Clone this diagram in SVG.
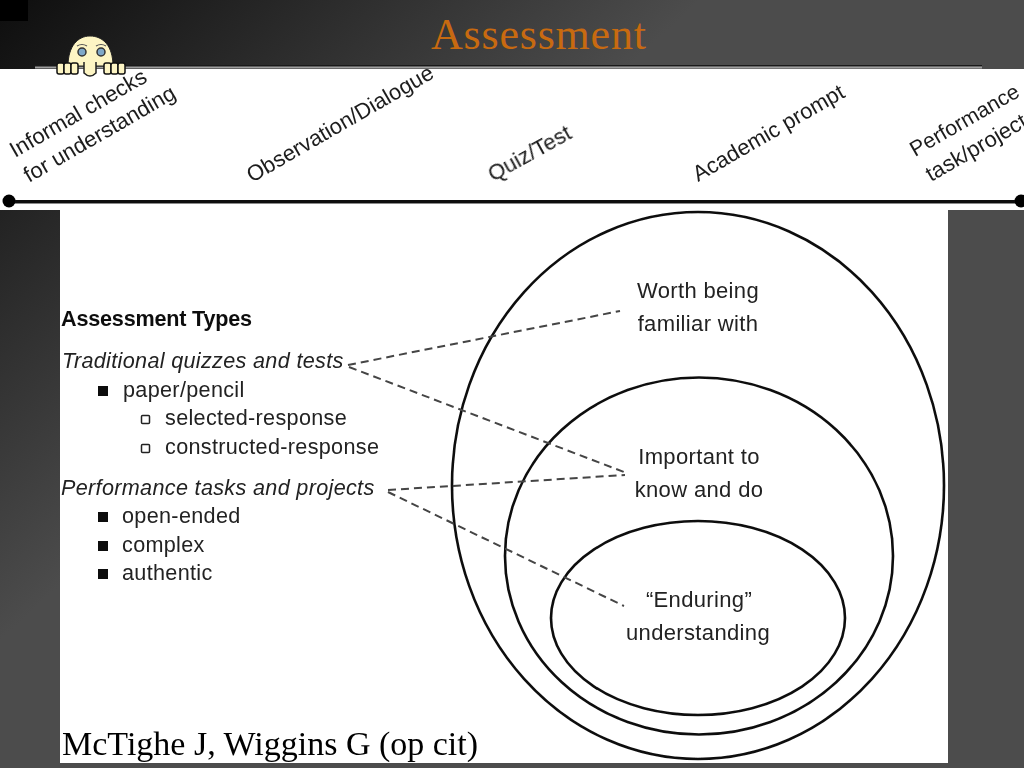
<svg xmlns="http://www.w3.org/2000/svg" width="1024" height="768" viewBox="0 0 1024 768">
<defs>
<linearGradient id="bg" gradientUnits="userSpaceOnUse" x1="0" y1="0" x2="319" y2="349"><stop offset="0" stop-color="#0e0e0e"/><stop offset="1" stop-color="#4c4c4c"/></linearGradient>
<filter id="soft" x="-2%" y="-2%" width="104%" height="104%"><feGaussianBlur stdDeviation="0.35"/></filter>
</defs>
<style>
text{font-family:"Liberation Sans",Arial,sans-serif;fill:#222}
.l{font-size:21.600px;letter-spacing:.33px}
.c{font-size:22px;letter-spacing:.35px}
.i{font-size:21.600px;letter-spacing:.33px;font-style:italic}
.r{font-size:22px;fill:#1c1c1c}
.d{fill:none;stroke:#444;stroke-width:2;stroke-dasharray:8 5}
.e{fill:none;stroke:#111;stroke-width:2.600}
</style>
<rect width="1024" height="768" fill="url(#bg)"/>
<rect x="0" y="0" width="28" height="21" fill="#000"/>
<rect x="0" y="69" width="1024" height="141" fill="#fff"/>
<rect x="60" y="209" width="888" height="554" fill="#fff"/>
<rect x="35" y="65" width="947" height="1.500" fill="#1a1a1a"/>
<rect x="35" y="66.500" width="947" height="2" fill="#a0a0a0"/>
<text x="431" y="49" style="font-family:'Liberation Serif',serif;font-size:44px;letter-spacing:.8px;fill:#c86a10">Assessment</text>
<g id="scale" filter="url(#soft)">
<rect x="8" y="200" width="1012" height="3.500" fill="#111"/>
<circle cx="9" cy="201" r="6.500" fill="#000"/><circle cx="1021" cy="201" r="6.500" fill="#000"/>
<g transform="rotate(-30 15 158)"><text class="r" x="15" y="158">Informal checks</text></g>
<g transform="rotate(-30 29 183)"><text class="r" x="29" y="183">for understanding</text></g>
<g transform="rotate(-30 252 183)"><text class="r" x="252" y="183">Observation/Dialogue</text></g>
<g transform="rotate(-29 493 182)"><text class="r" x="493" y="182">Quiz/Test</text></g>
<g transform="rotate(-30 698 182)"><text class="r" x="698" y="182">Academic prompt</text></g>
<g transform="rotate(-30 915 157)"><text class="r" x="915" y="157" style="font-size:21.400px">Performance</text></g>
<g transform="rotate(-30 931 182)"><text class="r" x="931" y="182">task/project</text></g>
</g>
<g id="mascot">
<path d="M68 66C68 46 78 36 90 36C103 36 113 46 113 66Z" fill="#fdf5c4" stroke="#222" stroke-width="1"/>
<path d="M84 58V73Q90 79 96 73V58Z" fill="#fdf5c4"/>
<path d="M84 62V73Q90 79 96 73V62" fill="none" stroke="#222" stroke-width="1.500"/>
<circle cx="82" cy="52" r="4" fill="#7fa8c8" stroke="#333" stroke-width="1.500"/><circle cx="101" cy="52" r="4" fill="#7fa8c8" stroke="#333" stroke-width="1.500"/>
<path d="M77 46Q82 43 87 46M96 46Q101 43 106 46" fill="none" stroke="#555" stroke-width="1.200"/>
<g fill="#fdf5c4" stroke="#111" stroke-width="1.500"><rect x="57" y="63" width="7" height="11" rx="2"/><rect x="64" y="63" width="7" height="11" rx="2"/><rect x="71" y="63" width="7" height="11" rx="2"/><rect x="104" y="63" width="7" height="11" rx="2"/><rect x="111" y="63" width="7" height="11" rx="2"/><rect x="118" y="63" width="7" height="11" rx="2"/></g>
</g>
<g id="list" filter="url(#soft)">
<text x="61" y="326" style="font-size:21.600px;font-weight:bold;fill:#111;letter-spacing:-0.2px">Assessment Types</text>
<text class="i" x="62" y="368">Traditional quizzes and tests</text>
<rect x="98" y="386" width="10" height="10" fill="#111"/>
<text class="l" x="123" y="397">paper/pencil</text>
<rect x="141.500" y="415.500" width="8" height="8" rx="1" fill="#fff" stroke="#222" stroke-width="1.500"/>
<text class="l" x="165" y="425">selected-response</text>
<rect x="141.500" y="444.500" width="8" height="8" rx="1" fill="#fff" stroke="#222" stroke-width="1.500"/>
<text class="l" x="165" y="454">constructed-response</text>
<text class="i" x="61" y="495">Performance tasks and projects</text>
<rect x="98" y="512" width="10" height="10" fill="#111"/>
<text class="l" x="122" y="523">open-ended</text>
<rect x="98" y="541" width="10" height="10" fill="#111"/>
<text class="l" x="122" y="552">complex</text>
<rect x="98" y="569" width="10" height="10" fill="#111"/>
<text class="l" x="122" y="580">authentic</text>
</g>
<g id="outer-circle" filter="url(#soft)"><ellipse class="e" cx="698" cy="485.500" rx="246" ry="273.500"/><text class="c" text-anchor="middle" x="698" y="298">Worth being</text><text class="c" text-anchor="middle" x="698" y="331">familiar with</text></g>
<g id="middle-circle" filter="url(#soft)"><ellipse class="e" cx="699" cy="556" rx="194" ry="178.500"/><text class="c" text-anchor="middle" x="699" y="464">Important to</text><text class="c" text-anchor="middle" x="699" y="497">know and do</text></g>
<g id="inner-circle" filter="url(#soft)"><ellipse class="e" cx="698" cy="618" rx="147" ry="97"/><text class="c" text-anchor="middle" x="699" y="607">“Enduring”</text><text class="c" text-anchor="middle" x="698" y="640">understanding</text></g>
<g id="connectors" filter="url(#soft)">
<path class="d" d="M348 365L620 311M349 367L624 472M388 490L625 475M388 492L624 606"/>
</g>
<text x="62" y="755" style="font-family:'Liberation Serif',serif;font-size:34px;fill:#000">McTighe J, Wiggins G (op cit)</text>
</svg>
